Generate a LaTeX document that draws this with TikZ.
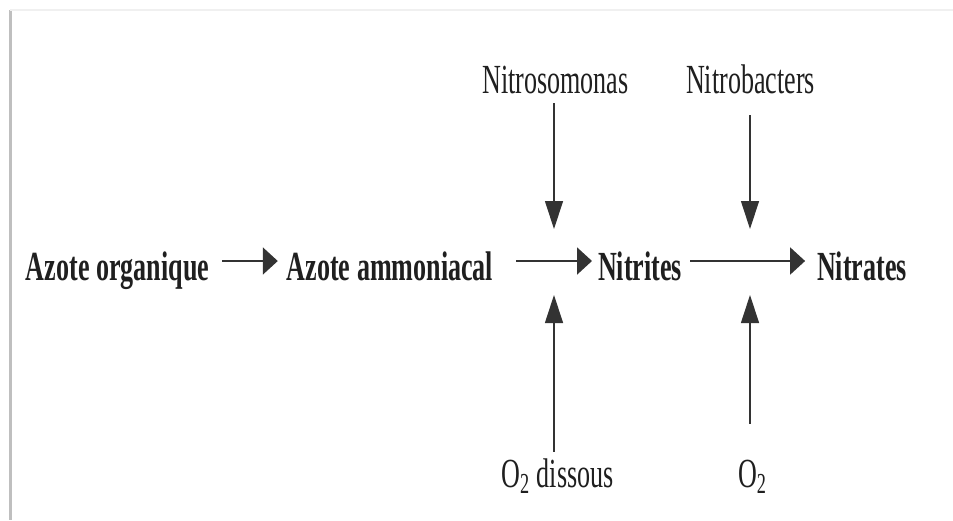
\documentclass[tikz,border=0pt]{standalone}
\usepackage{fontspec}
\setmainfont{Liberation Serif}[FakeStretch=0.63]
\usetikzlibrary{positioning, shapes, arrows.meta}

\begin{document}
\begin{tikzpicture}[x=0.5pt, y=-0.5pt,
    every node/.style={font=\fontsize{20.7}{24}\selectfont, text=black!88, inner xsep=1.5pt, inner ysep=2pt, outer sep=0pt},
    chem/.style={font=\fontsize{20.7}{24}\selectfont\bfseries, anchor=base, text height=19pt, text depth=0pt},
    bact/.style={anchor=base},
    harr/.style={draw=black!80, line width=1pt, -{Triangle[length=7.5pt, width=13.5pt]}},
    varr/.style={draw=black!80, line width=0.6pt, -{Triangle[length=14pt, width=9pt]}}]
    \useasboundingbox (0,0) rectangle (953,520);
    \draw[black!25, line width=1.5pt] (10,10) -- (10,520);
    \draw[black!6, line width=1pt] (10,10) -- (953,10);

    \node[chem] (org) at (117.5,280) {Azote organique};
    \node[chem] (amm) at (390,280) {Azote ammoniacal};
    \node[chem] (nii) at (640,280) {Nitrites};
    \node[chem] (nia) at (862,280) {Nitrates};
    \node[bact] (nso) at (555.5,93) {Nitrosomonas};
    \node[bact] (nba) at (750.5,93) {Nitrobacters};
    \node[bact] (odi) at (557.5,487) {O\textsubscript{2} dissous};
    \node[bact, anchor=base west] (oxy) at (735,487) {O\textsubscript{2}};

    \coordinate (t1) at (554,229);
    \coordinate (b1) at (554,295);
    \coordinate (t2) at (750,229);
    \coordinate (b2) at (750,295);

    \draw[harr, shorten <=5pt, shorten >=3pt] (org) -- (amm);
    \draw[harr, shorten <=10pt, shorten >=1.5pt] (amm) -- (nii);
    \draw[harr, shorten <=2.5pt, shorten >=4.5pt] (nii) -- (nia);

    \draw[varr, shorten <=3pt] (t1 |- nso.south) -- (t1);
    \draw[varr, shorten <=9pt] (t2 |- nba.south) -- (t2);
    \draw[varr, shorten <=1.3pt] (b1 |- odi.north) -- (b1);
    \draw[varr, shorten <=16pt] (b2 |- oxy.north) -- (b2);
\end{tikzpicture}
\end{document}
